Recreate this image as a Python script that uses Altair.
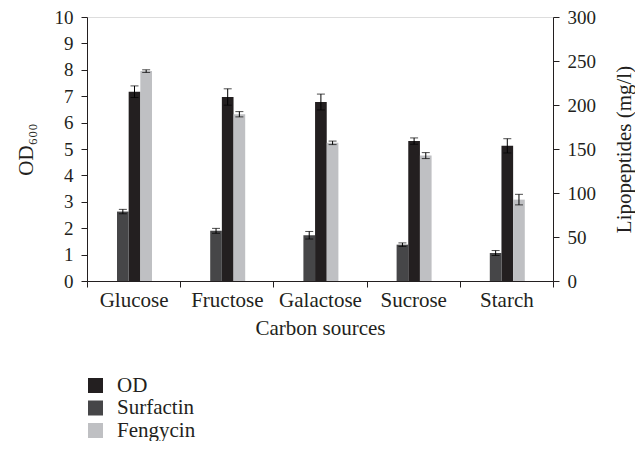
import altair as alt
import pandas as pd

carbons = ["Glucose", "Fructose", "Galactose", "Sucrose", "Starch"]

# OD600 (left axis)
od_values = [7.17, 6.97, 6.78, 5.30, 5.12]
od_errors = [0.22, 0.31, 0.30, 0.12, 0.27]

# Lipopeptides in mg/l (right axis)
surfactin_values = [78.9, 57.0, 52.0, 41.3, 31.8]
surfactin_errors = [2.5, 2.8, 4.3, 2.0, 2.8]
fengycin_values = [238.5, 189.5, 157.0, 142.5, 92.5]
fengycin_errors = [1.5, 3.0, 2.0, 3.4, 6.0]

legend_order = ["OD", "Surfactin", "Fengycin"]
offset_order = ["Surfactin", "OD", "Fengycin"]
colors = ["#231f20", "#464648", "#bfc0c3"]

FONT = "Liberation Serif"
INK = "#231f20"

od_df = pd.DataFrame({
    "carbon": carbons,
    "series": ["OD"] * len(carbons),
    "value": od_values,
    "err": od_errors,
})
lp_df = pd.DataFrame({
    "carbon": carbons * 2,
    "series": ["Surfactin"] * len(carbons) + ["Fengycin"] * len(carbons),
    "value": surfactin_values + fengycin_values,
    "err": surfactin_errors + fengycin_errors,
})
for d in (od_df, lp_df):
    d["lo"] = d["value"] - d["err"]
    d["hi"] = d["value"] + d["err"]

x_enc = alt.X(
    "carbon:N",
    sort=carbons,
    scale=alt.Scale(paddingInner=0, paddingOuter=0),
    axis=alt.Axis(
        title="Carbon sources",
        tickBand="extent",
        labelAngle=0,
        labelFontSize=21,
        titleFontSize=21,
        titleFontWeight="normal",
        tickSize=6,
        labelPadding=2,
        titlePadding=7,
    ),
)
xoff_enc = alt.XOffset(
    "series:N",
    sort=offset_order,
    scale=alt.Scale(domain=offset_order, paddingInner=0, paddingOuter=0, range=[30, 65]),
)
color_enc = alt.Color(
    "series:N",
    scale=alt.Scale(domain=legend_order, range=colors),
    legend=alt.Legend(
        title=None,
        orient="none",
        legendX=-2,
        legendY=358,
        symbolType="square",
        symbolSize=225,
        symbolStrokeWidth=0,
        labelFontSize=21,
        labelOffset=11,
        rowPadding=0.5,
        padding=0,
    ),
)

left_axis = alt.Axis(
    title="OD₆₀₀",
    orient="left",
    values=list(range(0, 11)),
    labelFontSize=19,
    titleFontSize=21,
    titleFontWeight="normal",
    tickSize=6,
    labelPadding=8,
    titlePadding=18,
)
right_axis = alt.Axis(
    title="Lipopeptides (mg/l)",
    orient="right",
    values=list(range(0, 301, 50)),
    labelFontSize=19,
    titleFontSize=21,
    titleFontWeight="normal",
    titleAngle=270,
    titleBaseline="top",
    tickSize=6,
    labelPadding=8,
    titlePadding=18,
)

left_scale = alt.Scale(domain=[0, 10], nice=False)
right_scale = alt.Scale(domain=[0, 300], nice=False)


def series_layers(df, scale, axis):
    base = alt.Chart(df)
    bars = base.mark_bar().encode(
        x=x_enc,
        xOffset=xoff_enc,
        y=alt.Y("value:Q", scale=scale, axis=axis),
        color=color_enc,
    )
    rule = base.mark_rule(color="#000000", strokeWidth=1).encode(
        x=x_enc,
        xOffset=xoff_enc,
        y=alt.Y("lo:Q", scale=scale, axis=axis),
        y2="hi:Q",
    )
    caps = base.transform_fold(["lo", "hi"], as_=["end", "pos"]).mark_tick(
        color="#000000", thickness=1, size=8, orient="horizontal"
    ).encode(
        x=x_enc,
        xOffset=xoff_enc,
        y=alt.Y("pos:Q", scale=scale, axis=axis),
    )
    return alt.layer(bars, rule, caps)


left = series_layers(od_df, left_scale, left_axis)
right = series_layers(lp_df, right_scale, right_axis)

chart = (
    alt.layer(left, right)
    .resolve_scale(y="independent")
    .properties(
        width=466,
        height=264,
        padding={"left": 7, "top": 0, "right": 0, "bottom": 0},
    )
    .configure_view(stroke=None)
    .configure(font=FONT)
    .configure_axis(
        grid=False,
        domainColor=INK,
        tickColor=INK,
        labelColor=INK,
        titleColor=INK,
        labelFont=FONT,
        titleFont=FONT,
        domainWidth=1,
    )
    .configure_legend(labelFont=FONT, labelColor=INK)
)

chart.save("out.html", embed_options={"renderer": "svg", "actions": False})
